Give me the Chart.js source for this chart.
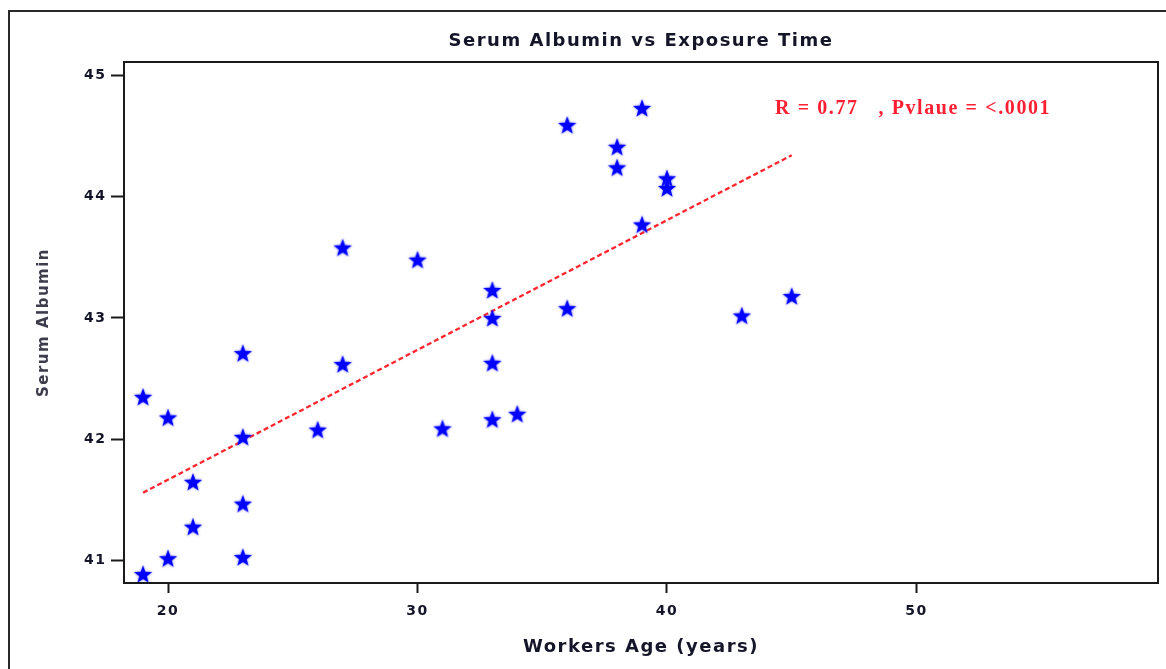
<!DOCTYPE html>
<html>
<head>
<meta charset="utf-8">
<script src="https://cdn.jsdelivr.net/npm/chart.js@4.4.1/dist/chart.umd.min.js"></script>
<style>
  html, body { margin: 0; padding: 0; background: #ffffff; }
  #wrap { width: 1166px; height: 669px; position: relative; }
</style>
</head>
<body>
<div id="wrap"><canvas id="c" width="1166" height="669"></canvas></div>
<script>
// ---- data ----
const ageYears = [19, 19, 20, 20, 21, 21, 23, 23, 23, 23, 26, 27, 27, 30, 31, 33, 33, 33, 33, 34, 36, 36, 38, 38, 39, 39, 40, 40, 43, 45];
const albumin  = [40.89, 42.35, 42.18, 41.02, 41.65, 41.28, 42.71, 42.02, 41.47, 41.03, 42.08, 43.58, 42.62, 43.48, 42.09, 43.23, 43.00, 42.63, 42.165, 42.21, 43.08, 44.59, 44.41, 44.24, 44.73, 43.77, 44.15, 44.07, 43.02, 43.18];
const fitX = [19, 45];
const fitY = [41.56, 44.34];
const xTicks = [20, 30, 40, 50];
const yTicks = [41, 42, 43, 44, 45];
const chartTitle = 'Serum Albumin vs Exposure Time';
const xTitle = 'Workers Age (years)';
const yTitle = 'Serum Albumin';
const statText = 'R = 0.77   , Pvlaue = <.0001';

const SANS = '"DejaVu Sans", "Liberation Sans", Arial, sans-serif';

// filled five-point star marker
function makeStar(color) {
  const s = 26, c = document.createElement('canvas');
  c.width = s; c.height = s;
  const g = c.getContext('2d');
  const R = 9.6, r = 4.0, cx = s / 2, cy = s / 2 + 0.9;
  g.beginPath();
  for (let i = 0; i < 10; i++) {
    const rad = i % 2 === 0 ? R : r;
    const a = -Math.PI / 2 + i * Math.PI / 5;
    const px = cx + rad * Math.cos(a), py = cy + rad * Math.sin(a);
    if (i === 0) g.moveTo(px, py); else g.lineTo(px, py);
  }
  g.closePath();
  g.shadowColor = 'rgba(70,70,255,0.75)';
  g.shadowBlur = 2.5;
  g.fillStyle = color;
  g.fill();
  return c;
}
const starImg = makeStar('#0000ff');

const points = ageYears.map((x, i) => ({ x: x, y: albumin[i] }));
const fitPoints = fitX.map((x, i) => ({ x: x, y: fitY[i] }));

const framePlugin = {
  id: 'framePlugin',
  beforeDraw(chart) {
    const ctx = chart.ctx;
    ctx.save();
    ctx.fillStyle = '#ffffff';
    ctx.fillRect(0, 0, chart.width, chart.height);
    ctx.restore();
    ctx.letterSpacing = '1.5px';
  },
  afterDraw(chart) {
    const ctx = chart.ctx;
    ctx.letterSpacing = '0px';
    const a = chart.chartArea;
    ctx.save();
    // outer frame
    ctx.strokeStyle = '#2a2a2a';
    ctx.lineWidth = 2;
    ctx.strokeRect(9, 11, 1300, 800);
    // plot box
    ctx.strokeStyle = '#1a1a1a';
    ctx.lineWidth = 2;
    ctx.strokeRect(a.left, a.top, a.right - a.left, a.bottom - a.top);
    // statistics annotation
    ctx.letterSpacing = '1.6px';
    ctx.font = 'bold 20px "Liberation Serif", "Times New Roman", serif';
    ctx.fillStyle = '#ff1f33';
    ctx.textAlign = 'left';
    ctx.textBaseline = 'alphabetic';
    ctx.fillText(statText, 775, 114);
    ctx.restore();
    ctx.letterSpacing = '0px';
  }
};

new Chart(document.getElementById('c'), {
  type: 'scatter',
  data: {
    datasets: [
      {
        label: 'Serum Albumin',
        data: points,
        pointStyle: starImg,
        pointRadius: 11,
        pointHoverRadius: 11,
        showLine: false,
        order: 1
      },
      {
        type: 'line',
        label: 'Fit',
        data: fitPoints,
        borderColor: 'rgba(255,25,35,0.95)',
        borderWidth: 2.3,
        borderDash: [5, 3],
        pointRadius: 0,
        fill: false,
        tension: 0,
        order: 2
      }
    ]
  },
  options: {
    responsive: false,
    devicePixelRatio: 1,
    animation: false,
    events: [],
    layout: { autoPadding: false, padding: { left: 0, right: 8, top: 0, bottom: 0 } },
    plugins: {
      legend: { display: false },
      tooltip: { enabled: false },
      title: {
        display: true,
        text: chartTitle,
        fullSize: false,
        color: '#15152a',
        font: { family: SANS, size: 18, weight: 'bold', lineHeight: 1.2 },
        padding: { top: 31, bottom: 9.4 }
      }
    },
    scales: {
      x: {
        type: 'linear',
        min: 18.236,
        max: 59.68,
        afterFit(scale) { scale.height = 86; },
        afterBuildTicks(scale) { scale.ticks = xTicks.map(v => ({ value: v })); },
        border: { display: false },
        grid: { display: true, drawOnChartArea: false, drawTicks: true, tickLength: 10, tickWidth: 2, tickColor: '#1a1a1a' },
        ticks: {
          color: '#15152a',
          padding: 10,
          maxRotation: 0,
          font: { family: SANS, size: 14, weight: 'bold' }
        },
        title: {
          display: true,
          text: xTitle,
          color: '#15152a',
          font: { family: SANS, size: 18, weight: 'bold', lineHeight: 1.2 },
          padding: { top: 0, bottom: 10.5 }
        }
      },
      y: {
        type: 'linear',
        min: 40.816,
        max: 45.108,
        afterFit(scale) { scale.width = 124; },
        afterBuildTicks(scale) { scale.ticks = yTicks.map(v => ({ value: v })); },
        border: { display: false },
        grid: { display: true, drawOnChartArea: false, drawTicks: true, tickLength: 13, tickWidth: 2, tickColor: '#1a1a1a' },
        ticks: {
          color: '#15152a',
          padding: 4.5,
          font: { family: SANS, size: 14, weight: 'bold' }
        },
        title: {
          display: true,
          text: yTitle,
          color: '#3c3c4c',
          font: { family: SANS, size: 15, weight: 'bold', lineHeight: 1.2 },
          padding: { top: 35, bottom: 0 }
        }
      }
    }
  },
  plugins: [framePlugin]
});
</script>
</body>
</html>
